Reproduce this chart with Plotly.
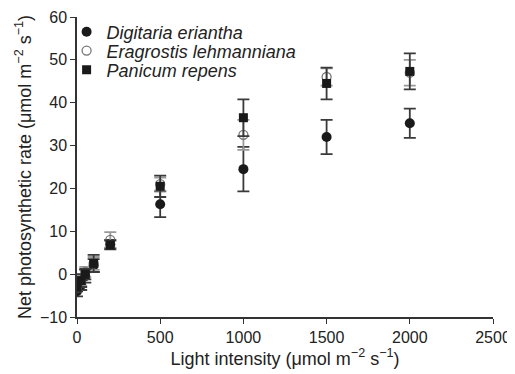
import plotly.graph_objects as go

light = [0, 25, 50, 100, 200, 500, 1000, 1500, 2000]

dig_y = [-4, -2.5, -0.5, 2, 7, 16.3, 24.5, 32, 35.2]
dig_err = [1.2, 1.2, 1.5, 1.5, 1.0, 3.0, 5.2, 4.0, 3.4]

era_y = [-3, -1.5, 0.5, 2.5, 8, 21, 32.5, 46, 47]
era_err = [1.0, 1.2, 1.2, 1.5, 1.8, 1.5, 3.5, 2.0, 3.0]

pan_y = [-3, -1.5, 0, 2.5, 6.8, 20.5, 36.5, 44.5, 47.3]
pan_err = [1.0, 1.5, 1.2, 2.0, 1.0, 2.5, 4.3, 3.7, 4.2]

fig = go.Figure()

fig.add_trace(go.Scatter(
    x=light, y=dig_y, mode="markers", name="Digitaria eriantha", legend="legend",
    showlegend=True,
    marker=dict(symbol="circle", size=10, color="#1a1a1a"),
    error_y=dict(type="data", array=dig_err, color="#3a3a3a", thickness=1.8, width=6),
))
fig.add_trace(go.Scatter(
    x=light, y=era_y, mode="markers", name="Eragrostis lehmanniana", legend="legend2",
    showlegend=True,
    marker=dict(symbol="circle-open", size=9, color="#777777", line=dict(width=1.3)),
    error_y=dict(type="data", array=era_err, color="#999999", thickness=1.8, width=6),
))
fig.add_trace(go.Scatter(
    x=light, y=pan_y, mode="markers", name="Panicum repens", legend="legend3",
    showlegend=True,
    marker=dict(symbol="square", size=9, color="#1a1a1a"),
    error_y=dict(type="data", array=pan_err, color="#3a3a3a", thickness=1.8, width=6),
))

leg_common = dict(
    x=-0.025, xanchor="left", yanchor="middle",
    font=dict(size=18, style="italic"),
    itemwidth=30, bgcolor="rgba(0,0,0,0)",
)

fig.update_layout(
    width=507, height=366,
    showlegend=True,
    margin=dict(l=69, r=22, t=9, b=57, autoexpand=False),
    paper_bgcolor="white", plot_bgcolor="white",
    font=dict(family="Liberation Sans, Arial, sans-serif", size=15, color="#222222"),
    legend=dict(y=0.95, **leg_common),
    legend2=dict(y=0.887, **leg_common),
    legend3=dict(y=0.823, **leg_common),
    xaxis=dict(
        range=[0, 2500], tickvals=[0, 500, 1000, 1500, 2000, 2500],
        showgrid=False, zeroline=False, showline=True, linecolor="#333333", linewidth=1.5,
        ticks="outside", ticklen=5, tickcolor="#333333", automargin=False,
        tickfont=dict(size=16),
        title=dict(text="Light intensity (μmol m<sup>−2</sup> s<sup>−1</sup>)", standoff=4,
                   font=dict(size=18)),
    ),
    yaxis=dict(
        range=[-10, 60], tickvals=[-10, 0, 10, 20, 30, 40, 50, 60],
        ticktext=["−10", "0", "10", "20", "30", "40", "50", "60"],
        showgrid=False, zeroline=False, showline=True, linecolor="#333333", linewidth=1.5,
        ticks="outside", ticklen=5, tickcolor="#333333", automargin=False,
        tickfont=dict(size=16),
        title=dict(text="Net photosynthetic rate (μmol m<sup>−2</sup> s<sup>−1</sup>)", standoff=4,
                   font=dict(size=18)),
    ),
)

fig.write_html("out.html")
